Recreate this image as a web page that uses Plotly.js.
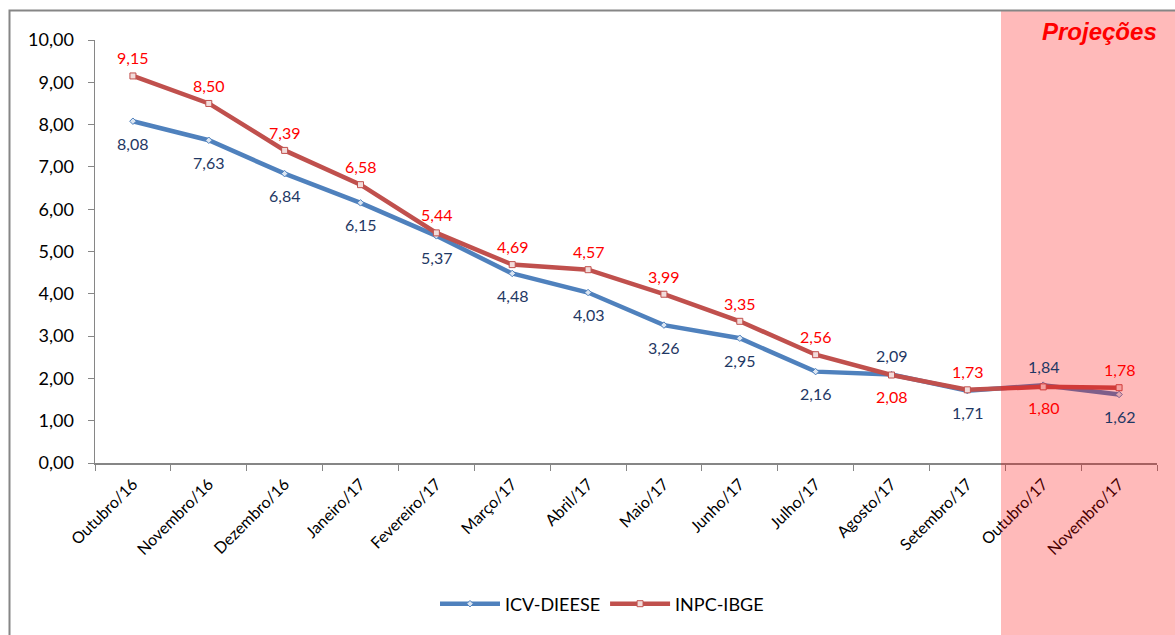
<!DOCTYPE html>
<html><head><meta charset="utf-8">
<script src="https://cdn.plot.ly/plotly-3.0.1.min.js"></script>
<style>html,body{margin:0;padding:0;background:#fff}#c{width:1175px;height:635px}</style>
</head><body><div id="c"></div>
<script>
const months = ["Outubro/16","Novembro/16","Dezembro/16","Janeiro/17","Fevereiro/17","Março/17","Abril/17","Maio/17","Junho/17","Julho/17","Agosto/17","Setembro/17","Outubro/17","Novembro/17"];
const icv = [8.08,7.63,6.84,6.15,5.37,4.48,4.03,3.26,2.95,2.16,2.09,1.71,1.84,1.62];
const inpc = [9.15,8.50,7.39,6.58,5.44,4.69,4.57,3.99,3.35,2.56,2.08,1.73,1.80,1.78];
const icvLabelAbove = [false,false,false,false,false,false,false,false,false,false,true,false,true,false];
const inpcLabelAbove = [true,true,true,true,true,true,true,true,true,true,false,true,false,true];

const fmt = v => v.toFixed(2).replace('.', ',');
const F = "Lato, 'Noto Sans', sans-serif";
const annotations = [];
months.forEach((m,i)=>{
  annotations.push({x:m,y:icv[i],xref:'x',yref:'y',text:fmt(icv[i]),showarrow:false,xanchor:'center',yanchor:'middle',
    yshift: icvLabelAbove[i]?19:-22, font:{family:F,size:16,color:'#1F3864'}});
  annotations.push({x:m,y:inpc[i],xref:'x',yref:'y',text:fmt(inpc[i]),showarrow:false,xanchor:'center',yanchor:'middle',
    yshift: inpcLabelAbove[i]?18:-21, font:{family:F,size:16,color:'#FF0000'}});
});
// paper conversions: plot x 95..1157, y 40..463
const px = p => (p-95)/1062, py = p => (463-p)/423;
annotations.push({xref:'paper',yref:'paper',x:px(1099),y:py(31),xanchor:'center',yanchor:'middle',text:'<b><i>Projeções</i></b>',showarrow:false,
  font:{family:'Arial, Liberation Sans, sans-serif',size:24,color:'#FF0000'}});

const traces = [
 {x:months,y:icv,name:'ICV-DIEESE',type:'scatter',mode:'lines+markers',
  line:{color:'#4F81BD',width:4.5},marker:{symbol:'diamond',size:5,color:'#DCE6F2',line:{color:'#4F81BD',width:1}}},
 {x:months,y:inpc,name:'INPC-IBGE',type:'scatter',mode:'lines+markers',
  line:{color:'#C0504D',width:4.5},marker:{symbol:'square',size:6,color:'#F2DCDB',line:{color:'#C0504D',width:1}}}
];
const layout = {
  width:1175,height:635,margin:{l:95,r:18,t:40,b:172},
  paper_bgcolor:'#fff',plot_bgcolor:'rgba(0,0,0,0)',separators:',.',
  showlegend:true,
  legend:{orientation:'h',x:px(602),xanchor:'center',y:py(604),yanchor:'middle',font:{family:F,size:18,color:'#000'},itemwidth:60,tracegroupgap:0},
  xaxis:{type:'category',range:[-0.5,13.5],showgrid:false,showline:true,linecolor:'#868686',linewidth:1.5,
    ticks:'outside',ticklen:6,tickcolor:'#868686',tickson:'boundaries',tickangle:-45,ticklabelstandoff:4,
    tickfont:{family:F,size:16,color:'#000'},zeroline:false},
  yaxis:{range:[0,10],dtick:1,tickformat:'.2f',showgrid:false,showline:true,linecolor:'#868686',linewidth:1.5,
    ticks:'outside',ticklen:6,tickcolor:'#868686',ticklabelstandoff:10,tickfont:{family:F,size:18,color:'#000'},zeroline:false},
  shapes:[
    {type:'rect',xref:'paper',yref:'paper',x0:px(1001),x1:px(1185),y0:py(11),y1:py(645),
     fillcolor:'rgba(255,0,0,0.27)',line:{width:0},layer:'above'},
    {type:'rect',xref:'paper',yref:'paper',x0:px(9.5),x1:px(1190),y0:py(10.5),y1:py(650),
     fillcolor:'rgba(0,0,0,0)',line:{color:'#868686',width:2},layer:'above'}
  ],
  annotations:annotations
};
Plotly.newPlot('c',traces,layout,{displayModeBar:false,staticPlot:true});
</script></body></html>
